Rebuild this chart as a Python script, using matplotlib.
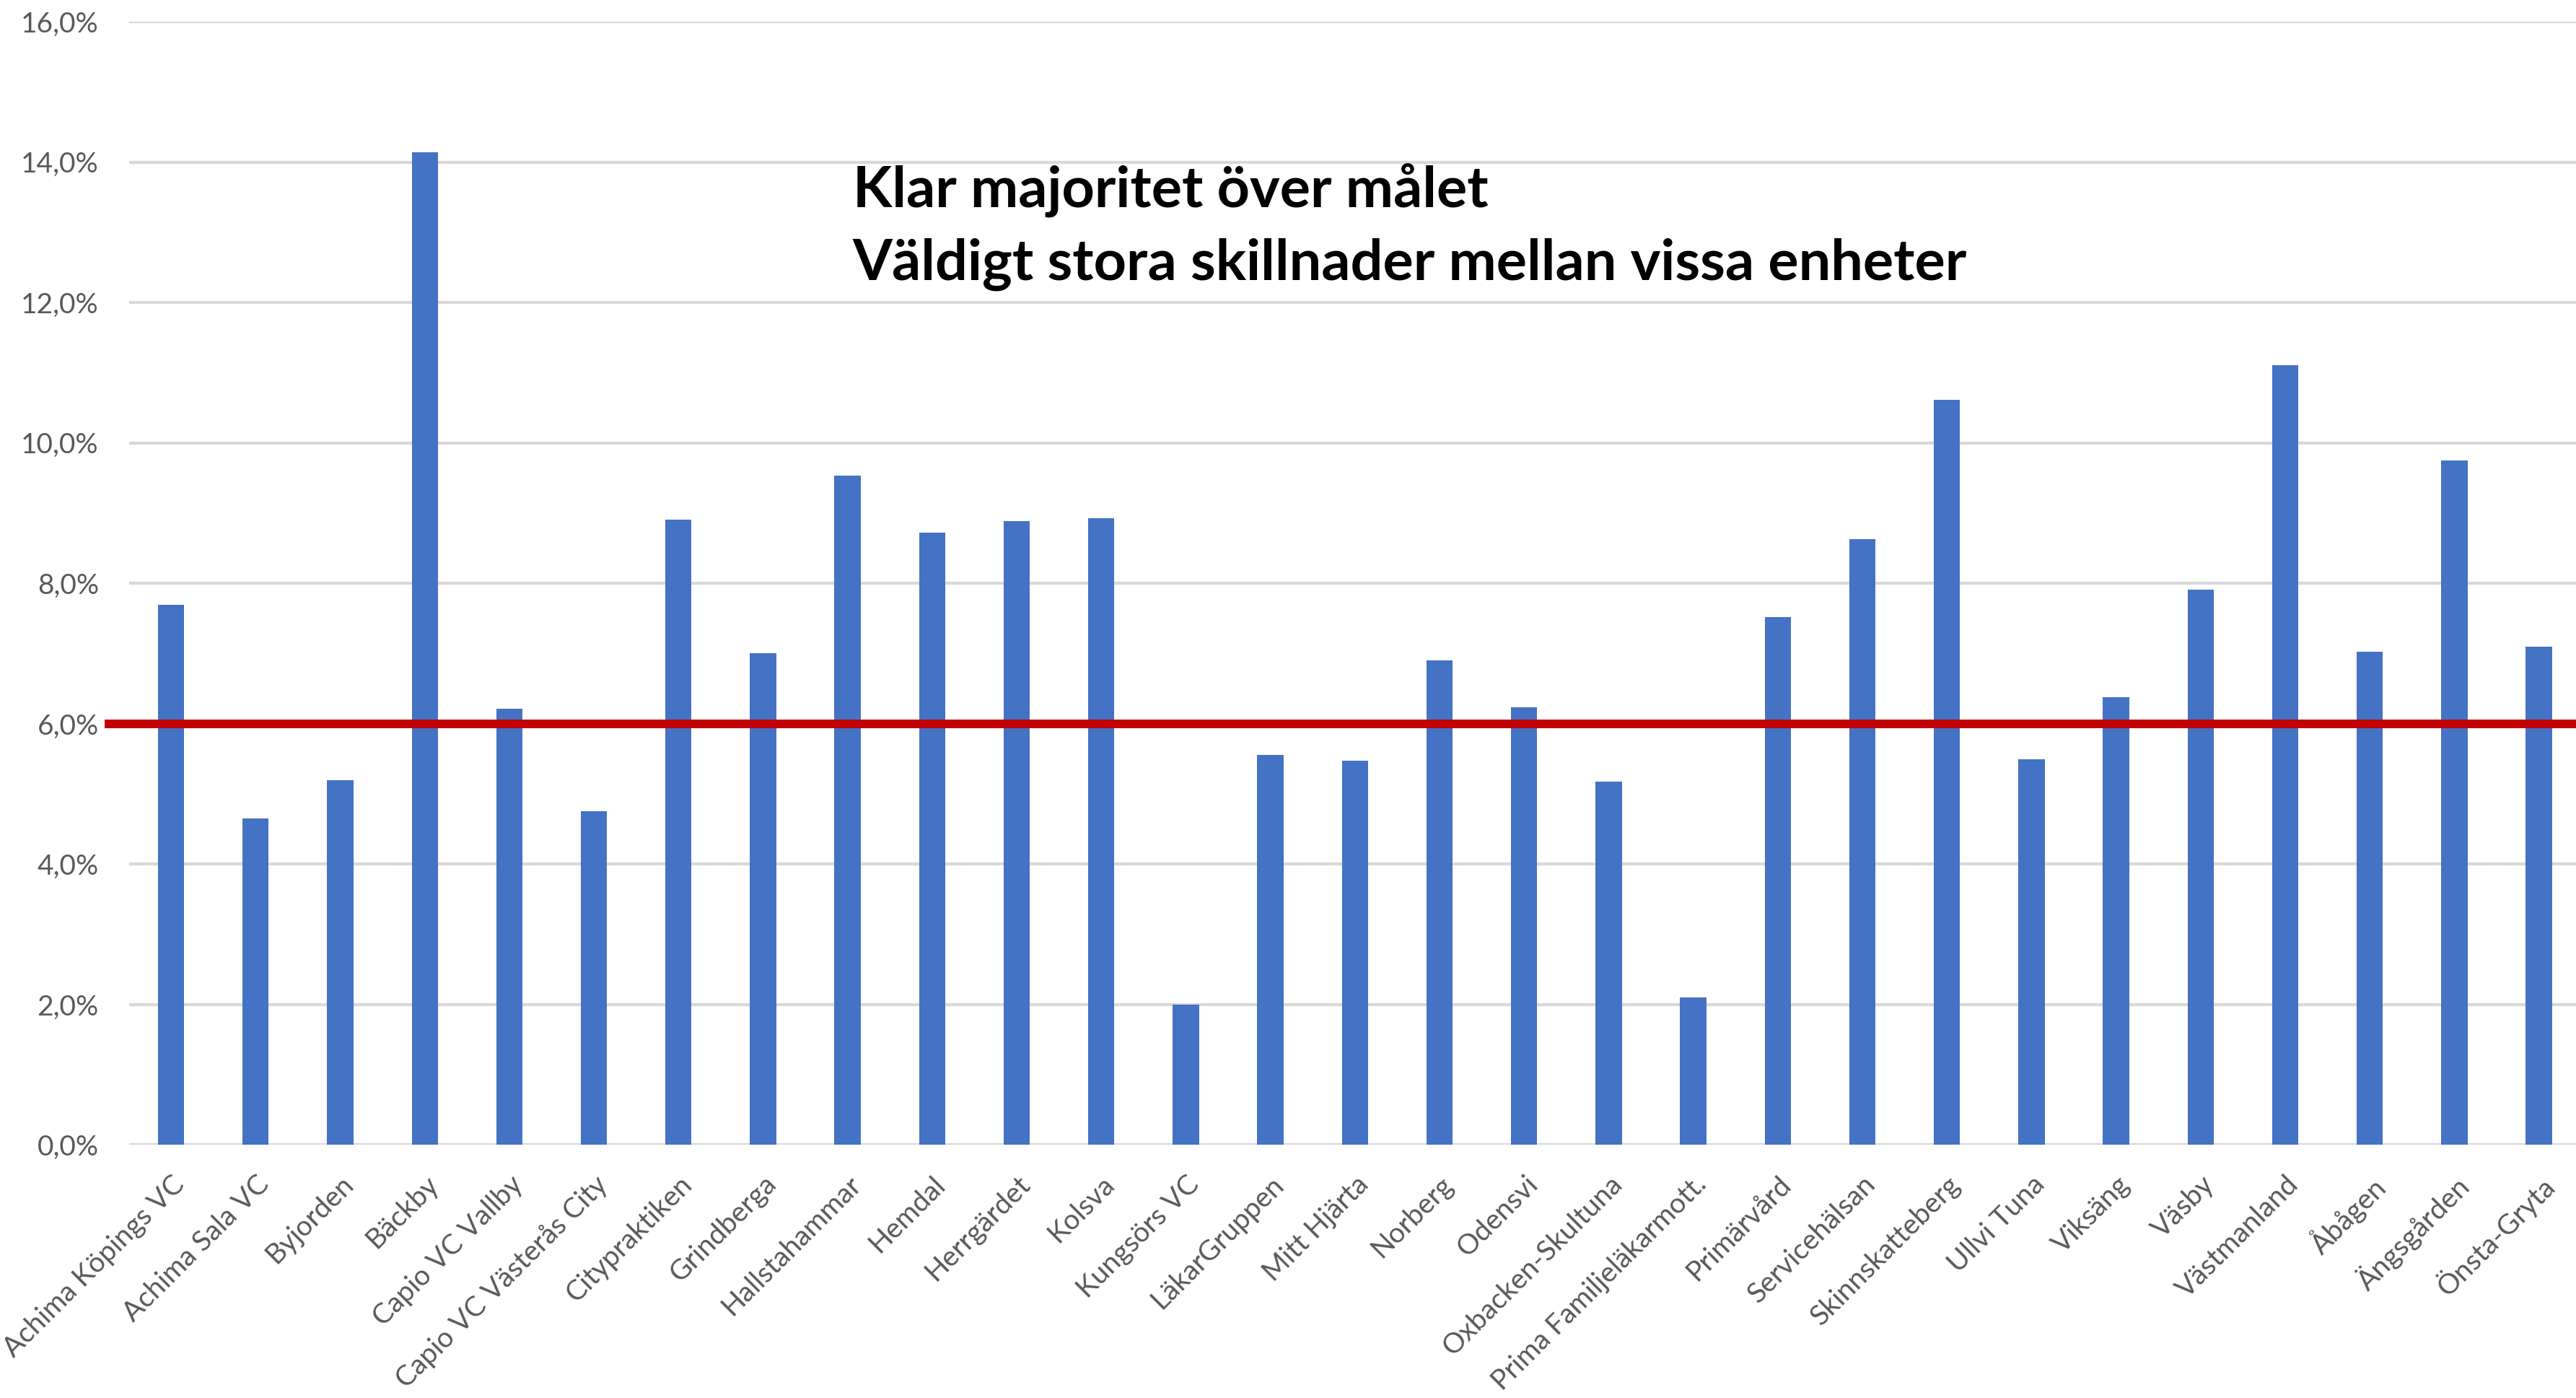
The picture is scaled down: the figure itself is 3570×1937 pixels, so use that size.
import matplotlib
matplotlib.use("Agg")
import matplotlib.pyplot as plt
from matplotlib.ticker import FuncFormatter
import numpy as np

# Andel per enhet (%)
enheter = [
    "Achima Köpings VC", "Achima Sala VC", "Byjorden", "Bäckby", "Capio VC Vallby",
    "Capio VC Västerås City", "Citypraktiken", "Grindberga", "Hallstahammar", "Hemdal",
    "Herrgärdet", "Kolsva", "Kungsörs VC", "LäkarGruppen", "Mitt Hjärta",
    "Norberg", "Odensvi", "Oxbacken-Skultuna", "Prima Familjeläkarmott.", "Primärvård",
    "Servicehälsan", "Skinnskatteberg", "Ullvi Tuna", "Viksäng", "Väsby",
    "Västmanland", "Åbågen", "Ängsgården", "Önsta-Gryta",
]
andel = [
    7.69, 4.65, 5.20, 14.14, 6.21,
    4.75, 8.91, 7.00, 9.53, 8.72,
    8.89, 8.93, 2.00, 5.56, 5.47,
    6.90, 6.23, 5.18, 2.10, 7.52,
    8.63, 10.61, 5.49, 6.38, 7.91,
    11.11, 7.03, 9.75, 7.10,
]
malniva = 6.0
y_ticks = [0, 2, 4, 6, 8, 10, 12, 14, 16]
rubrik = ["Klar majoritet över målet", "Väldigt stora skillnader mellan vissa enheter"]

plt.rcParams['font.family'] = ['Lato', 'DejaVu Sans']

fig = plt.figure(figsize=(17.85, 9.685), dpi=200)
ax = fig.add_axes([0.050, 0.181, 0.952, 0.8035])

x = np.arange(len(enheter))
ax.bar(x, andel, width=0.31, color='#4472C4', zorder=2)

# mållinje
ax.axhline(malniva, xmin=-0.008, xmax=1.0, color='#C00000', linewidth=4.3,
           zorder=3, clip_on=False)

ax.set_xlim(-0.5, len(enheter) - 0.5)
ax.set_ylim(0, 16)
ax.set_yticks(y_ticks)
ax.yaxis.set_major_formatter(FuncFormatter(lambda v, p: f"{v:.1f}".replace('.', ',') + "%"))
ax.grid(axis='y', color='#D9D9D9', linewidth=1.5, zorder=0)
ax.set_axisbelow(True)

for s in ['top', 'right', 'left', 'bottom']:
    ax.spines[s].set_visible(False)
ax.tick_params(axis='y', length=0, pad=15, labelsize=14, labelcolor='#595959')
ax.tick_params(axis='x', length=0, pad=13, labelsize=14, labelcolor='#595959')

ax.set_xticks(x)
ax.set_xticklabels(enheter, rotation=45, ha='right', rotation_mode='anchor')

fig.text(0.331, 0.864, rubrik[0], fontsize=28.5, fontweight='bold', color='black', va='center')
fig.text(0.331, 0.811, rubrik[1], fontsize=28.5, fontweight='bold', color='black', va='center')

fig.savefig("out.png", dpi=200)
